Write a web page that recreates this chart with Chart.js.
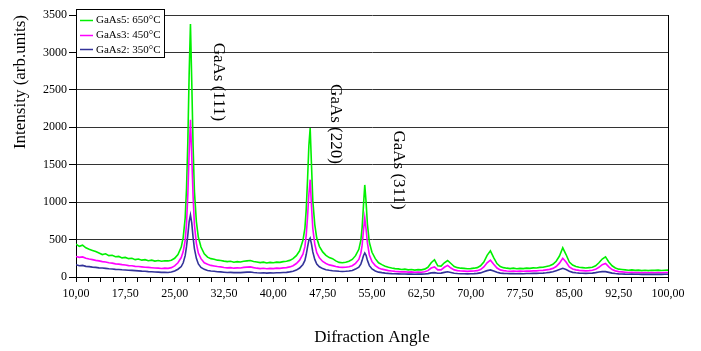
<!DOCTYPE html>
<html><head><meta charset="utf-8">
<script src="https://cdn.jsdelivr.net/npm/chart.js@4/dist/chart.umd.min.js"></script>
<style>html,body{margin:0;padding:0;background:#fff;}canvas{display:block;}</style>
</head><body>
<canvas id="c" width="701" height="351"></canvas>
<script>
// Diffraction angle sampling (degrees)
const angles = [
  10,10.5,11,11.5,12,12.5,13,13.5,14,14.5,15,15.5,16,16.5,17,17.5,18,18.5,19,19.5,20,20.5,21,21.5,22,22.5,23,23.5,24,24.5,25,25.5,
  26,26.3,26.6,26.8,27,27.2,27.4,27.6,27.8,28,28.3,28.6,29,29.5,
  30,30.5,31,31.5,32,32.5,33,33.5,34,34.5,35,35.5,36,36.5,37,37.5,38,38.5,39,39.5,40,40.5,41,41.5,42,42.5,43,43.5,44,
  44.5,44.8,45,45.2,45.4,45.6,45.8,46,46.3,46.6,47,47.5,
  48,48.5,49,49.5,50,50.5,51,51.5,52,52.5,
  53,53.3,53.5,53.7,53.9,54.1,54.3,54.6,55,55.5,
  56,56.5,57,57.5,58,58.5,59,59.5,60,60.5,61,61.5,62,62.5,63,63.5,64,64.5,65,65.5,66,66.5,67,67.5,68,68.5,69,69.5,70,70.5,
  71,71.5,72,72.5,73,73.5,74,74.5,75,75.5,76,76.5,77,77.5,78,78.5,79,79.5,80,80.5,81,81.5,82,82.5,83,83.5,84,84.5,85,85.5,
  86,86.5,87,87.5,88,88.5,89,89.5,90,90.5,91,91.5,92,92.5,93,93.5,94,94.5,95,95.5,96,96.5,97,97.5,98,98.5,99,99.5,100
];
// GaAs5: 650°C
const gaas5 = [
  440,410,425,390,370,355,340,320,300,310,285,290,270,275,255,262,245,250,232,240,225,232,218,225,212,220,210,218,215,225,250,300,
  400,530,790,1180,1800,2700,3380,2600,1750,1150,740,530,400,310,
  265,245,238,225,220,212,205,210,198,205,200,210,215,220,208,200,192,198,188,195,190,198,195,205,210,222,245,285,350,
  490,650,900,1300,1750,1990,1500,1020,700,520,410,335,
  290,260,245,215,195,190,198,210,235,285,
  370,490,660,950,1230,1000,710,460,330,245,
  190,165,145,130,120,112,108,100,105,95,100,92,98,95,105,130,190,230,150,145,190,220,180,140,125,118,115,110,112,118,
  125,150,200,290,350,260,180,140,125,118,112,118,110,115,112,118,115,122,120,128,130,140,150,170,210,280,390,300,200,160,
  140,130,125,120,125,130,150,190,240,270,200,150,120,105,100,95,90,95,88,92,85,90,85,90,88,92,86,90,92
];
// GaAs3: 450°C
const gaas3 = [
  275,262,268,250,240,232,222,215,205,200,190,185,175,172,165,160,152,150,142,140,135,130,128,124,120,118,114,118,115,125,148,190,
  260,340,490,710,1100,1650,2100,1600,1080,700,450,320,245,190,
  170,155,148,140,135,128,122,125,118,122,120,128,132,135,125,118,112,116,110,115,112,118,115,122,125,135,150,180,225,
  305,405,560,800,1100,1300,950,650,440,325,255,208,
  180,162,152,140,132,128,130,138,150,182,
  235,315,425,620,790,640,455,295,205,152,
  120,105,95,85,80,75,72,68,70,65,68,62,66,64,70,85,120,135,95,95,130,155,120,95,85,80,78,75,78,80,
  85,100,135,190,225,170,120,95,85,80,76,80,75,78,76,80,78,82,82,86,88,95,102,115,140,185,250,200,135,108,
  95,88,85,82,85,90,102,130,165,180,135,100,82,72,68,64,60,63,58,61,56,60,56,59,57,60,56,58,60
];
// GaAs2: 350°C
const gaas2 = [
  165,150,155,142,138,132,128,122,120,115,110,106,102,100,96,94,90,88,85,82,78,76,72,70,66,65,62,62,60,66,80,104,
  140,190,285,405,560,740,828,720,530,380,250,175,128,102,
  88,80,76,70,68,64,60,62,58,60,58,62,65,66,60,56,54,56,52,55,54,57,56,60,62,68,76,92,120,
  168,222,300,400,490,520,440,335,235,172,137,112,
  98,90,84,80,76,74,76,80,88,106,
  132,172,222,285,320,290,222,152,107,81,
  65,58,52,48,45,43,42,40,41,38,40,37,39,38,40,45,55,58,50,52,62,70,60,50,46,44,43,42,44,45,
  48,55,70,85,95,80,62,52,48,46,45,46,44,45,44,46,46,48,48,50,52,56,62,70,85,100,116,100,78,62,
  56,52,50,48,50,52,58,66,72,72,62,52,46,42,40,38,37,38,36,37,35,36,35,36,35,36,35,36,36
];
const seriesNames = ['GaAs5: 650°C', 'GaAs3: 450°C', 'GaAs2: 350°C'];
const seriesColors = ['#00f000', '#ff00ff', '#333399'];
const xTickValues = [10,17.5,25,32.5,40,47.5,55,62.5,70,77.5,85,92.5,100];
const xTickLabels = ['10,00','17,50','25,00','32,50','40,00','47,50','55,00','62,50','70,00','77,50','85,00','92,50','100,00'];
const yTickLabels = ['0','500','1000','1500','2000','2500','3000','3500'];
const peakLabels = ['GaAs (111)', 'GaAs (220)', 'GaAs (311)'];
const peakLabelAngles = [31.6, 49.5, 58.95];
const peakLabelIntensity = [2605, 2044, 1429];

const SERIF = '"Liberation Serif", "Times New Roman", serif';
const series = [gaas5, gaas3, gaas2];
const datasets = series.map((vals, i) => ({
  label: seriesNames[i],
  data: angles.map((a, j) => ({x: a, y: vals[j]})),
  borderColor: seriesColors[i],
  backgroundColor: seriesColors[i],
  borderWidth: 1.6,
  pointRadius: 0,
  tension: 0,
  order: 3 - i
}));

const decorations = {
  id: 'decorations',
  afterDraw(chart) {
    const {ctx, chartArea: ca, scales} = chart;
    ctx.save();
    // right frame line
    ctx.strokeStyle = '#000';
    ctx.lineWidth = 1;
    ctx.beginPath();
    ctx.moveTo(Math.round(ca.right) + 0.5, ca.top);
    ctx.lineTo(Math.round(ca.right) + 0.5, ca.bottom);
    ctx.stroke();
    // peak annotations
    ctx.fillStyle = '#000';
    ctx.font = '17px ' + SERIF;
    ctx.textAlign = 'center';
    ctx.textBaseline = 'middle';
    peakLabels.forEach((t, i) => {
      const x = scales.x.getPixelForValue(peakLabelAngles[i]);
      const y = scales.y.getPixelForValue(peakLabelIntensity[i]);
      ctx.save();
      ctx.translate(x, y);
      ctx.rotate(Math.PI / 2);
      ctx.fillText(t, 0, 0);
      ctx.restore();
    });
    // legend box
    const lx = 76.5, ly = 9.5, lw = 88, lh = 48;
    ctx.fillStyle = '#fff';
    ctx.fillRect(lx, ly, lw, lh);
    ctx.strokeStyle = '#000';
    ctx.lineWidth = 1;
    ctx.strokeRect(lx, ly, lw, lh);
    ctx.font = '11px ' + SERIF;
    ctx.textAlign = 'left';
    seriesNames.forEach((t, i) => {
      const yy = 20 + i * 14.7;
      ctx.strokeStyle = seriesColors[i];
      ctx.lineWidth = 1.5;
      ctx.beginPath();
      ctx.moveTo(80, Math.round(yy) + 0.5);
      ctx.lineTo(93, Math.round(yy) + 0.5);
      ctx.stroke();
      ctx.fillStyle = '#000';
      ctx.fillText(t, 96, yy + 0.5);
    });
    ctx.restore();
  }
};

new Chart(document.getElementById('c'), {
  type: 'line',
  data: {datasets},
  options: {
    responsive: false,
    animation: false,
    devicePixelRatio: 1,
    layout: {padding: {top: 15, right: 33, left: 0, bottom: 0}},
    plugins: {legend: {display: false}, tooltip: {enabled: false}},
    scales: {
      x: {
        type: 'linear',
        min: 10, max: 100,
        afterFit(s) { s.height = 74; },
        afterBuildTicks(s) {
          const t = [];
          for (let k = 0; k <= 48; k++) t.push({value: 10 + k * 1.875});
          s.ticks = t;
        },
        ticks: {
          autoSkip: false, maxRotation: 0, minRotation: 0,
          color: '#000', padding: 5,
          font: {family: SERIF, size: 12},
          callback(v) {
            const i = xTickValues.findIndex(tv => Math.abs(tv - v) < 1e-6);
            return i >= 0 ? xTickLabels[i] : '';
          }
        },
        grid: {drawOnChartArea: false, drawTicks: true, tickLength: 5, color: '#000'},
        border: {display: true, color: '#000', width: 1},
        title: {display: true, text: 'Difraction Angle', color: '#000',
          font: {family: SERIF, size: 17}, padding: {top: 0, bottom: 3}}
      },
      y: {
        min: 0, max: 3500,
        afterFit(s) { s.width = 76; },
        ticks: {
          stepSize: 500, color: '#000', padding: 2,
          font: {family: SERIF, size: 12},
          callback(v, idx) { return yTickLabels[idx]; }
        },
        grid: {color: '#333', lineWidth: 1, tickLength: 7, tickColor: '#000'},
        border: {display: true, color: '#000', width: 1},
        title: {display: true, text: 'Intensity (arb.units)', color: '#000', align: 'end',
          font: {family: SERIF, size: 17}, padding: {top: 10, bottom: 0}}
      }
    }
  },
  plugins: [decorations]
});
</script>
</body></html>
